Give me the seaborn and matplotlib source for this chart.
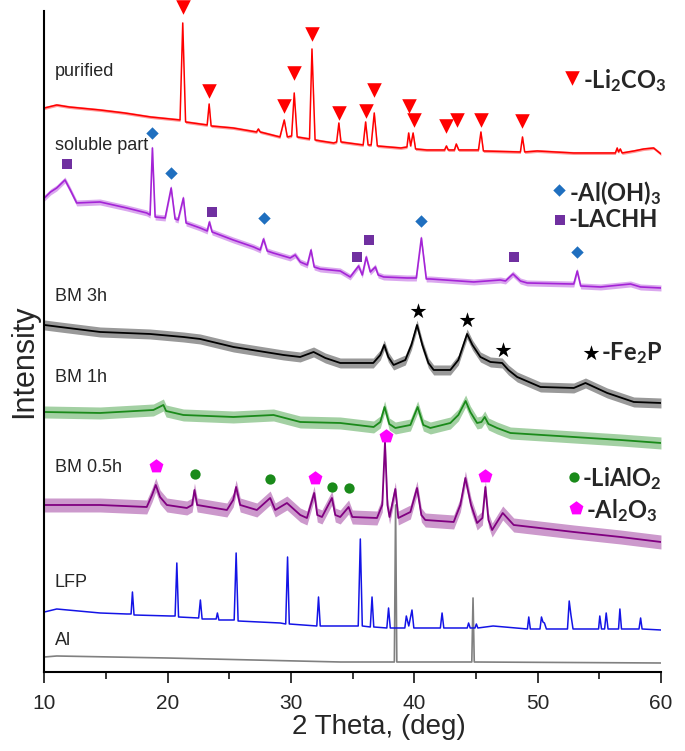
import numpy as np
import seaborn as sns
import matplotlib.pyplot as plt

# XRD patterns, 2theta in degrees, intensity in arbitrary (stacked) units
purified_x = [10.0, 11.0, 12.0, 14.5, 16.5, 18.6, 21.0, 21.22, 21.45, 23.2, 23.36, 23.52, 25.3, 27.2, 27.35, 27.5,
              29.1, 29.45, 29.7, 30.05, 30.26, 30.5, 31.5, 31.7, 31.95, 32.4, 33.45, 33.7, 33.88, 34.05, 35.85,
              36.05, 36.25, 36.5, 36.75, 37.0, 38.9, 39.4, 39.54, 39.7, 39.9, 40.1, 41.0, 42.45, 42.6, 42.75,
              43.25, 43.4, 43.6, 45.2, 45.4, 45.6, 48.6, 48.77, 48.95, 49.96, 52.9, 56.3, 56.45, 56.55, 56.7,
              56.85, 57.8, 58.6, 59.4, 60.0]
purified_y = [564, 567, 565, 562, 559, 555, 552, 649, 550, 547, 568, 546, 544, 540, 543, 540,
              535, 552, 535, 536, 579, 535, 533, 623, 532, 531, 529, 530, 549, 530, 527,
              550, 527, 527, 559, 526, 524, 525, 539, 526, 539, 523, 522, 522, 526, 522,
              522, 528, 522, 522, 540, 521, 520, 535, 520, 521, 519, 519, 524, 520, 523,
              519, 521, 523, 524, 518]

soluble_x = [10.0, 10.5, 11.0, 11.67, 12.1, 12.62, 14.51, 16.68, 18.3, 18.57, 18.76, 18.98, 19.79, 20.28, 20.6,
             20.84, 21.27, 21.49, 22.63, 23.2, 23.38, 23.6, 25.31, 26.96, 27.5, 27.77, 28.07, 28.55, 29.93,
             30.34, 30.75, 31.32, 31.62, 31.88, 32.37, 33.99, 34.8, 35.48, 35.78, 36.1, 36.43, 36.84, 37.07,
             37.51, 39.41, 40.16, 40.57, 40.97, 41.3, 44.81, 46.97, 47.39, 48.0, 48.6, 49.15, 52.66, 52.93,
             53.21, 53.49, 55.1, 57.53, 58.34, 60.0]
soluble_y = [474, 480, 484, 492, 482, 469, 470, 464, 459, 457, 524, 455, 454, 484, 453,
             452, 474, 449, 444, 441, 450, 440, 432, 425, 422, 433, 421, 419, 414,
             417, 410, 407, 422, 405, 403, 401, 395, 406, 397, 415, 400, 405, 397,
             395, 394, 394, 434, 393, 393, 390, 392, 391, 398, 391, 389, 388, 388,
             401, 386, 385, 388, 385, 384]

bm3_x = [10.0, 11.27, 14.52, 18.57, 21.27, 22.63, 25.33, 29.39, 30.74, 31.83, 32.78, 33.99, 36.67, 37.24, 37.56,
         37.89, 38.32, 39.27, 39.76, 40.22, 40.65, 41.14, 41.57, 42.92, 43.57, 44.28, 44.71, 45.36, 46.17,
         47.12, 47.63, 48.34, 50.23, 52.93, 53.88, 55.64, 57.8, 60.0]
bm3_y = [347, 345, 340, 338, 335, 333, 325, 317, 315, 320, 314, 309, 309, 317, 327,
         315, 307, 312, 327, 347, 327, 309, 302, 302, 312, 338, 327, 315, 310,
         309, 302, 295, 285, 284, 289, 279, 270, 269]

bm1_x = [10.0, 14.52, 18.84, 19.65, 19.87, 21.27, 25.33, 28.58, 30.75, 33.99, 36.7, 37.24, 37.59, 37.97, 38.46,
         39.68, 40.27, 40.73, 41.3, 42.92, 43.57, 44.16, 44.54, 45.09, 45.44, 45.71, 46.01, 46.71, 47.79,
         52.93, 56.72, 60.0]
bm1_y = [260, 259, 262, 267, 261, 257, 255, 257, 250, 249, 245, 250, 265, 248, 244,
         247, 265, 247, 244, 249, 257, 271, 260, 249, 250, 255, 248, 244, 239,
         235, 232, 229]

bm05_x = [10.0, 14.52, 18.3, 18.73, 19.03, 19.38, 19.93, 21.55, 21.98, 22.17, 22.39, 24.8, 25.31, 25.55, 25.88,
          27.23, 28.31, 28.72, 29.67, 30.75, 31.29, 31.88, 32.13, 32.51, 33.32, 33.59, 33.99, 34.67, 34.97,
          36.97, 37.4, 37.62, 37.82, 37.99, 38.46, 38.7, 39.68, 40.22, 40.57, 40.89, 43.19, 43.73, 44.14,
          44.6, 45.09, 45.52, 45.76, 46.01, 46.31, 47.17, 48.06, 52.93, 56.72, 60.0]
bm05_y = [167, 167, 165, 177, 187, 175, 167, 164, 167, 182, 167, 162, 172, 185, 167,
          162, 174, 162, 169, 157, 154, 179, 157, 155, 174, 157, 155, 165, 155,
          154, 167, 230, 167, 155, 183, 154, 160, 184, 157, 152, 150, 167, 194,
          167, 149, 154, 185, 152, 142, 159, 147, 140, 135, 130]

lfp_x = [10.0, 11.0, 14.52, 16.68, 17.03, 17.14, 17.27, 20.19, 20.6, 20.74, 20.88, 22.51, 22.65, 22.79, 23.93,
         24.03, 24.15, 25.39, 25.55, 25.71, 29.13, 29.57, 29.72, 29.86, 32.09, 32.23, 32.37, 33.99, 35.45,
         35.62, 35.78, 36.43, 36.57, 36.71, 37.77, 37.91, 38.05, 39.23, 39.35, 39.55, 39.81, 39.96, 42.11,
         42.25, 42.39, 44.29, 44.4, 44.53, 44.92, 45.03, 45.15, 46.39, 49.17, 49.28, 49.41, 50.19, 50.31,
         50.43, 50.55, 50.71, 52.42, 52.56, 52.7, 52.87, 54.94, 55.04, 55.18, 55.43, 55.56, 55.71, 56.56,
         56.67, 56.8, 58.22, 58.35, 58.47, 60.0]
lfp_y = [60, 63, 59, 58, 58, 80, 57, 56, 56, 109, 55, 54, 72, 53, 53,
         59, 52, 52, 119, 51, 49, 48, 115, 48, 46, 75, 46, 46, 46,
         133, 46, 45, 75, 45, 44, 64, 44, 44, 56, 46, 62, 44, 44,
         59, 44, 44, 49, 44, 44, 48, 44, 46, 43, 55, 43, 43, 55,
         50, 49, 43, 43, 71, 57, 43, 43, 56, 43, 43, 59, 43, 43,
         63, 43, 43, 54, 43, 42]

al_x = [10.0, 11.0, 19.93, 33.99, 38.38, 38.48, 38.58, 44.66, 44.76, 44.86, 60.0]
al_y = [15, 16, 14, 10, 10, 167, 10, 10, 74, 10, 9]

# noise half-width
noise = {"purified": 1.5, "soluble": 3, "bm3": 5, "bm1": 6, "bm05": 7, "lfp": 0, "al": 0}

# phase markers
li2co3_x = [21.23, 23.36, 29.45, 30.28, 31.70, 33.91, 36.10, 36.75, 39.54, 39.94, 42.60, 43.47, 45.41, 48.77]
li2co3_y = [665, 581, 566, 599, 638, 559, 561, 582, 566, 552, 546, 552, 552, 551]
aloh3_x = [18.76, 20.28, 27.77, 40.57, 53.21]
aloh3_y = [539, 499, 454, 451, 420]
lachh_x = [11.81, 23.58, 35.35, 36.29, 48.06]
lachh_y = [508, 460, 415, 432, 415]
fe2p_x = [40.27, 44.28, 47.17]
fe2p_y = [361, 352, 322]
lialo2_x = [22.22, 28.31, 33.32, 34.67]
lialo2_y = [198, 193, 185, 184]
al2o3_x = [19.03, 31.96, 37.68, 45.76]
al2o3_y = [206, 194, 236, 196]

sns.set_style("ticks")
plt.rcParams["font.family"] = ["Liberation Sans", "DejaVu Sans"]
plt.rcParams["mathtext.fontset"] = "custom"
plt.rcParams["mathtext.rm"] = "Lato:bold"
plt.rcParams["mathtext.it"] = "Lato:bold"
plt.rcParams["mathtext.bf"] = "Lato:bold"
plt.rcParams["mathtext.default"] = "rm"

fig = plt.figure(figsize=(6.85, 7.51), dpi=100)
ax = fig.add_axes([0.0648, 0.1052, 0.9001, 0.8802])

traces = [
    ("al", al_x, al_y, "#808080", 1.2),
    ("lfp", lfp_x, lfp_y, "#1414e6", 1.1),
    ("bm05", bm05_x, bm05_y, "#800080", 1.3),
    ("bm1", bm1_x, bm1_y, "#1a8a1a", 1.3),
    ("bm3", bm3_x, bm3_y, "#000000", 1.3),
    ("soluble", soluble_x, soluble_y, "#a424d6", 1.2),
    ("purified", purified_x, purified_y, "#ff0000", 1.1),
]
for name, xs, ys, col, lw in traces:
    xs = np.array(xs)
    ys = np.array(ys, dtype=float)
    if noise[name] > 0:
        ax.fill_between(xs, ys - noise[name], ys + noise[name], color=col, alpha=0.4, lw=0)
    sns.lineplot(x=xs, y=ys, ax=ax, color=col, lw=lw, sort=False, estimator=None)

marker_sets = [
    (li2co3_x, li2co3_y, "v", "#ff0000", 110),
    (aloh3_x, aloh3_y, "D", "#1f6fbf", 40),
    (lachh_x, lachh_y, "s", "#7030a0", 55),
    (fe2p_x, fe2p_y, "*", "#000000", 140),
    (lialo2_x, lialo2_y, "o", "#1a8a1a", 55),
    (al2o3_x, al2o3_y, "p", "#ff00ff", 110),
]
for xs, ys, m, col, s in marker_sets:
    sns.scatterplot(x=xs, y=ys, ax=ax, marker=m, color=col, s=s, linewidth=0, zorder=5, clip_on=False)

# legend-like keys on the right
keys = [
    (52.79, 594, "v", "#ff0000", 110, 53.65, 591, r"-Li$_2$CO$_3$"),
    (51.77, 482, "D", "#1f6fbf", 40, 52.55, 479, r"-Al(OH)$_3$"),
    (51.85, 452, "s", "#7030a0", 55, 52.55, 452, "-LACHH"),
    (54.29, 319, "*", "#000000", 140, 55.1, 319, r"-Fe$_2$P"),
    (52.93, 195, "o", "#1a8a1a", 55, 53.6, 193, r"-LiAlO$_2$"),
    (53.12, 164, "p", "#ff00ff", 110, 53.95, 161, r"-Al$_2$O$_3$"),
]
for mx, my, m, col, s, tx, ty, txt in keys:
    ax.scatter([mx], [my], marker=m, color=col, s=s, linewidths=0, zorder=5)
    ax.text(tx, ty, txt, fontsize=17, fontweight="bold", family="Lato", va="center", ha="left")

labels = [("purified", 600), ("soluble part", 526), ("BM 3h", 375), ("BM 1h", 294),
          ("BM 0.5h", 204), ("LFP", 89), ("Al", 31)]
for txt, y in labels:
    ax.text(10.85, y, txt, fontsize=13, va="center", ha="left")

ax.set_xlim(10, 60)
ax.set_ylim(0, 661)
ax.set_yticks([])
ax.set_xticks([10, 20, 30, 40, 50, 60])
ax.set_xticks([15, 25, 35, 45, 55], minor=True)
ax.tick_params(axis="x", which="major", length=8, width=1.3, direction="out", labelsize=15, pad=8)
ax.tick_params(axis="x", which="minor", length=5, width=1.3, direction="out")
for side in ["top", "right"]:
    ax.spines[side].set_visible(False)
for side in ["left", "bottom"]:
    ax.spines[side].set_linewidth(1.5)
    ax.spines[side].set_color("black")
ax.set_xlabel("2 Theta, (deg)", fontsize=20)
ax.xaxis.set_label_coords(0.543, -0.064)
ax.set_ylabel("Intensity", fontsize=22)
ax.yaxis.set_label_coords(-0.008, 0.47)

fig.savefig("out.png", dpi=100)
